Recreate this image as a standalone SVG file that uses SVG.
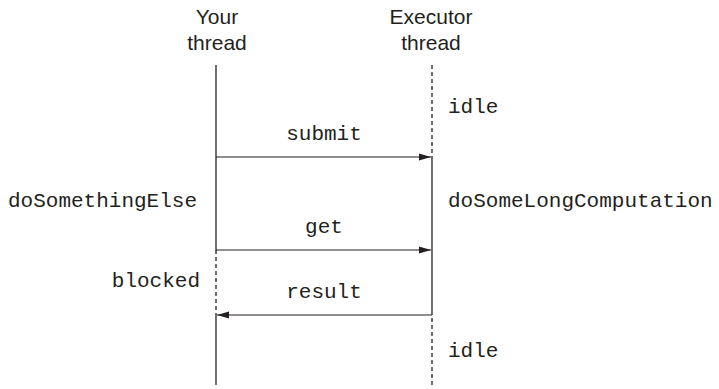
<svg xmlns="http://www.w3.org/2000/svg" width="719" height="389" viewBox="0 0 719 389">
<style>
.hdr{font-family:"Liberation Sans",Arial,sans-serif;font-size:21px;fill:#231f20;text-anchor:middle}
.mono{font-family:"Liberation Mono","Courier New",monospace;font-size:21px;fill:#231f20}
.solid{stroke:#231f20;stroke-width:1.3;fill:none}
.dash{stroke:#231f20;stroke-width:1.3;fill:none;stroke-dasharray:4 3}
.msg{stroke:#231f20;stroke-width:1.2;fill:none;marker-end:url(#ah)}
</style>
<defs>
<marker id="ah" viewBox="0 0 12 8" refX="12" refY="4" markerWidth="12" markerHeight="8" markerUnits="userSpaceOnUse" orient="auto">
<path d="M0,0.5 L12,4 L0,7.5 Z" fill="#231f20"/>
</marker>
</defs>
<rect width="719" height="389" fill="#fff"/>
<g id="your-thread">
<text class="hdr" x="217" y="24">Your</text>
<text class="hdr" x="217" y="50">thread</text>
<line class="solid" x1="216" y1="65" x2="216" y2="250"/>
<line class="dash" x1="216" y1="250" x2="216" y2="315"/>
<line class="solid" x1="216" y1="315" x2="216" y2="385"/>
<text class="mono" x="8" y="207">doSomethingElse</text>
<text class="mono" x="200" y="287" text-anchor="end">blocked</text>
</g>
<g id="executor-thread">
<text class="hdr" x="431" y="24">Executor</text>
<text class="hdr" x="431" y="50">thread</text>
<line class="dash" x1="432" y1="65" x2="432" y2="157"/>
<line class="solid" x1="432" y1="157" x2="432" y2="315"/>
<line class="dash" x1="432" y1="318" x2="432" y2="385"/>
<text class="mono" x="448" y="113">idle</text>
<text class="mono" x="448" y="207">doSomeLongComputation</text>
<text class="mono" x="448" y="357">idle</text>
</g>
<g id="connectors">
<line class="msg" x1="216" y1="157" x2="431" y2="157"/>
<text class="mono" x="324" y="140" text-anchor="middle">submit</text>
<line class="msg" x1="216" y1="250" x2="431" y2="250"/>
<text class="mono" x="324" y="233" text-anchor="middle">get</text>
<line class="msg" x1="432" y1="315" x2="217" y2="315"/>
<text class="mono" x="324" y="298" text-anchor="middle">result</text>
</g>
</svg>
